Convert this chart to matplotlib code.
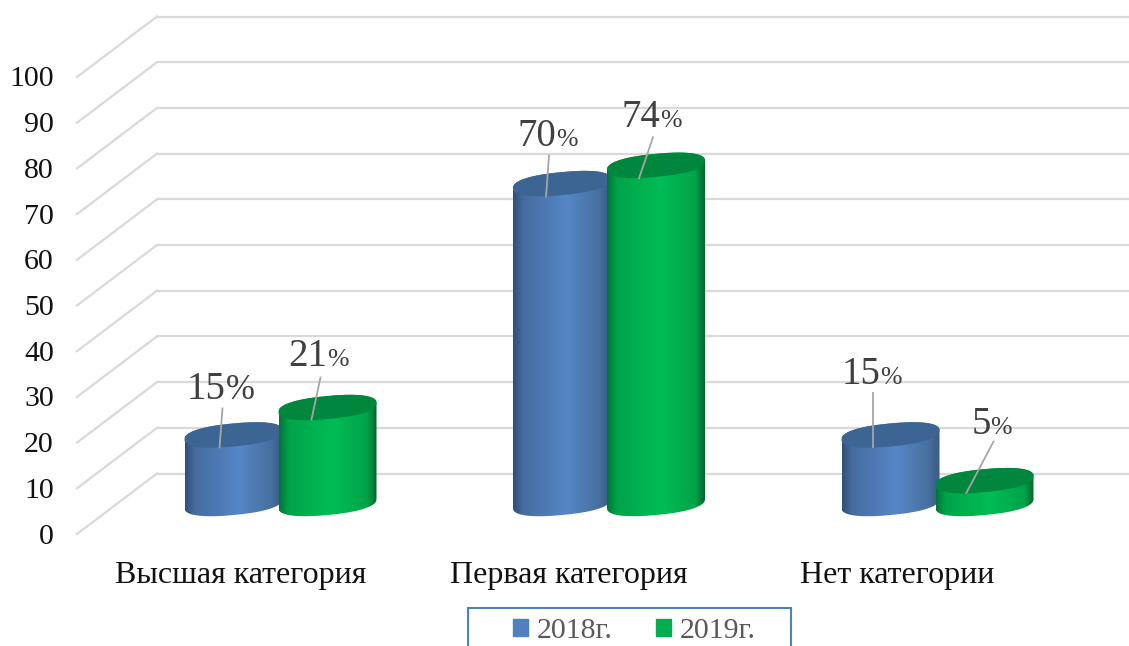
import numpy as np
import matplotlib
matplotlib.use("Agg")
import matplotlib.pyplot as plt
from matplotlib.colors import LinearSegmentedColormap
from matplotlib.patches import Patch, PathPatch, Rectangle
from matplotlib.path import Path

plt.rcParams['font.family'] = ['Liberation Serif', 'DejaVu Serif']

categories = ["Высшая категория", "Первая категория", "Нет категории"]
values_2018 = [15, 70, 15]
values_2019 = [21, 74, 5]
series_names = ["2018г.", "2019г."]
y_ticks = [0, 10, 20, 30, 40, 50, 60, 70, 80, 90, 100]

W, H = 1129, 646
PX_X = 328.5     # pixels per category
PX_Y = 4.57      # pixels per percent
X0, Y0 = 280.5, 503.5

BLUE = [(0, "#2f5078"), (0.10, "#456c9f"), (0.55, "#5586c6"), (0.88, "#47709f"), (1, "#36587f")]
GREEN = [(0, "#00753a"), (0.10, "#00a449"), (0.55, "#00bd55"), (0.90, "#00a449"), (1, "#00652e")]
BLUE_TOP = "#3d6594"
GREEN_TOP = "#00863d"

# label layout, pixel offsets from the top of each bar (dx, dy up)
tips = [(-14, -12.5), (-16, -12), (-16, -13), (-17, -13), (-18, -12.5), (-18, -12)]
starts = [(-11, 26.5), (-7, 30), (-13, 28), (-3, 28), (-18, 41.5), (9, 39)]
text_pos = [(-8, 35.5), (0, 42), (-6, 38), (4, 38), (-10, 51), (6, 46.5)]
pct_size = [25, 18.5, 18.5, 18.5, 18.5, 18.5]

fig = plt.figure(figsize=(W / 100, H / 100), dpi=100)
ax = fig.add_axes([0, 0, 1, 1])
ax.axis("off")


def outline(xc, yc, t):
    # slightly boxy ellipse, tilted up to the right
    a = 49 / PX_X
    b = 11.5 / PX_Y
    s = 4.5 / PX_Y
    c = np.sign(np.cos(t)) * np.abs(np.cos(t)) ** 0.85
    d = np.sign(np.sin(t)) * np.abs(np.sin(t)) ** 0.85
    return xc + a * c, yc + b * d + s * c


def cylinder(xc, val, colors, top_color):
    a = 49 / PX_X
    low = np.linspace(np.pi, 2 * np.pi, 80)
    up = np.linspace(0, np.pi, 80)
    bx, by = outline(xc, 0, low)
    tx, ty = outline(xc, val, up)
    verts = np.vstack([np.c_[bx, by], np.c_[tx, ty], [bx[0], by[0]]])
    codes = [Path.MOVETO] + [Path.LINETO] * (len(verts) - 2) + [Path.CLOSEPOLY]
    clip = PathPatch(Path(verts, codes), transform=ax.transData, fc="none", ec="none")
    ax.add_patch(clip)
    cmap = LinearSegmentedColormap.from_list("body", colors)
    im = ax.imshow(np.linspace(0, 1, 256).reshape(1, -1), cmap=cmap, aspect="auto",
                   extent=[xc - a, xc + a, -5, val + 5], zorder=3)
    im.set_clip_path(clip)
    ex, ey = outline(xc, val, np.linspace(0, 2 * np.pi, 160))
    ax.fill(ex, ey, color=top_color, lw=0, zorder=3)


# gridlines: walls first, in the data scale
front, back = -30.5 / PX_Y, 30 / PX_Y
left_front, left_back = (77 - X0) / PX_X, (157 - X0) / PX_X
right = (W - X0) / PX_X
for v in y_ticks:
    ax.plot([left_front, left_back], [v + front, v + back], color="#d9d9d9", lw=1.6, zorder=1)
    ax.plot([left_back, right], [v + back, v + back], color="#d9d9d9", lw=1.6, zorder=1)
    ax.text((54 - X0) / PX_X, v + front - 2.5 / PX_Y, str(v), ha="right", va="center",
            fontsize=21.5, color="#111111")

off = 47 / PX_X
n = 0
for i in range(len(categories)):
    for xc, val, cols, top in [(i - off, values_2018[i], BLUE, BLUE_TOP),
                               (i + off, values_2019[i], GREEN, GREEN_TOP)]:
        cylinder(xc, val, cols, top)
        ax.plot([xc + starts[n][0] / PX_X, xc + tips[n][0] / PX_X],
                [val + starts[n][1] / PX_Y, val + tips[n][1] / PX_Y],
                color="#a6a6a6", lw=1.3, zorder=4)
        tx = xc + text_pos[n][0] / PX_X
        ty = val + text_pos[n][1] / PX_Y
        ax.text(tx, ty, str(val), ha="right", va="baseline", fontsize=28, color="#404040", zorder=5)
        ax.text(tx, ty, "%", ha="left", va="baseline", fontsize=pct_size[n], color="#404040", zorder=5)
        n += 1
    ax.text(i - 40 / PX_X, -71.5 / PX_Y, categories[i], ha="center", va="center",
            fontsize=23, color="#111111")

# legend box runs off the bottom of the picture
ax.add_patch(Rectangle((468 / W, 1 - 608 / H), 323 / W, -60 / H, transform=ax.transAxes,
                       fc="white", ec="#4f81bd", lw=1.5, zorder=6))
handles = [Patch(color="#4f81bd", label=series_names[0]), Patch(color="#00b050", label=series_names[1])]
leg = ax.legend(handles=handles, ncol=2, frameon=False, loc="center",
                bbox_to_anchor=(634.5 / W, 1 - 631.5 / H), fontsize=21.5, labelcolor="#595959",
                handlelength=0.5, handleheight=0.5, handletextpad=0.3, columnspacing=1.45)
leg.set_zorder(7)

ax.set_xlim(-X0 / PX_X, (W - X0) / PX_X)
ax.set_ylim((Y0 - H) / PX_Y, Y0 / PX_Y)
fig.savefig("out.png", dpi=100)
